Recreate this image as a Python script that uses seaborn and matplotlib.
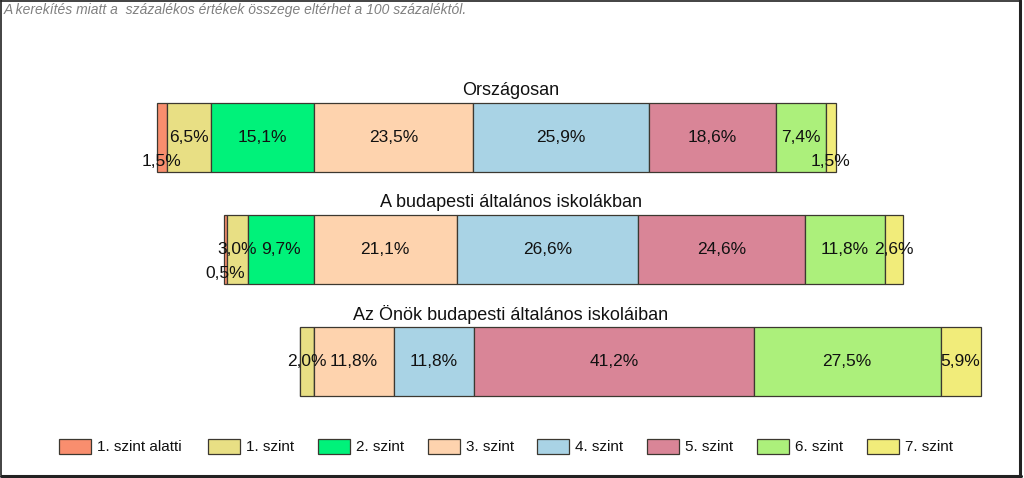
import matplotlib
matplotlib.use("Agg")
import matplotlib.pyplot as plt
from matplotlib.patches import Rectangle
from matplotlib.lines import Line2D
import matplotlib.transforms as mtransforms
import numpy as np
import pandas as pd
import seaborn as sns

# ---------------- data ----------------
categories = ["Országosan",
              "A budapesti általános iskolákban",
              "Az Önök budapesti általános iskoláiban"]
levels = ["1. szint alatti", "1. szint", "2. szint", "3. szint",
          "4. szint", "5. szint", "6. szint", "7. szint"]
szint_alatti = [1.5, 0.5, 0.0]
szint_1 = [6.5, 3.0, 2.0]
szint_2 = [15.1, 9.7, 0.0]
szint_3 = [23.5, 21.1, 11.8]
szint_4 = [25.9, 26.6, 11.8]
szint_5 = [18.6, 24.6, 41.2]
szint_6 = [7.4, 11.8, 27.5]
szint_7 = [1.5, 2.6, 5.9]
bar_start = [0.0, 9.9, 21.1]
note = "A kerekítés miatt a  százalékos értékek összege eltérhet a 100 százaléktól."

series = [szint_alatti, szint_1, szint_2, szint_3, szint_4, szint_5, szint_6, szint_7]
colors = ["#F98E6E", "#E8DF84", "#00F27A", "#FED3AE",
          "#A9D3E5", "#D98597", "#ACF07B", "#F1EC7A"]
edge = "#3C3830"

# ---------------- style ----------------
sns.set_theme(style="white")
plt.rcParams["font.family"] = ["Liberation Sans", "DejaVu Sans"]

W, H = 1024, 478
fig = plt.figure(figsize=(W / 100, H / 100), dpi=100)
ax = fig.add_axes([0, 0, 1, 1])

bar_h = 0.616
lefts = np.array(bar_start, dtype=float)
for lvl, vals, col in zip(levels, series, colors):
    df = pd.DataFrame({"kategoria": categories, "ertek": vals})
    sns.barplot(data=df, x="ertek", y="kategoria", order=categories,
                color=col, width=bar_h, errorbar=None, left=lefts.copy(),
                edgecolor=edge, linewidth=0.9, saturation=1, ax=ax)
    for i, v in enumerate(vals):
        if v <= 0:
            continue
        cx = lefts[i] + v / 2
        txt = f"{v:.1f}".replace(".", ",") + "%"
        dy = 0.215 if v < 2 else 0.0
        ax.text(cx, i + dy, txt, ha="center", va="center",
                fontsize=12.5, color="#111111", zorder=5)
    lefts = lefts + np.array(vals)

# scale: row-1 start at 156.7 px, 6.793 px per percent
px = 6.793
ax.set_xlim(-156.7 / px, (W - 156.7) / px)
ax.set_ylim((H - 137.5) / 112, -137.5 / 112)
ax.set_axis_off()

# row titles
trans = mtransforms.blended_transform_factory(ax.transAxes, ax.transData)
for i, c in enumerate(categories):
    ax.text(511 / W, i - 0.424, c, transform=trans, ha="center", va="center",
            fontsize=13, color="#111111")

# note
fig.text(4 / W, 1 - 10 / H, note, ha="left", va="center", fontsize=10,
         style="italic", color="#808080")

# legend (manual)
legend_x = [59, 208, 318, 428, 537, 647, 757, 867]
for x0, lvl, col in zip(legend_x, levels, colors):
    fig.patches.append(Rectangle((x0 / W, 1 - 454 / H), 32 / W, 15 / H,
                                 transform=fig.transFigure, facecolor=col,
                                 edgecolor=edge, linewidth=0.9))
    fig.text((x0 + 38) / W, 1 - 447 / H, lvl, ha="left", va="center",
             fontsize=11, color="#111111")

# frame
fig.add_artist(Line2D([1 / W, 1 / W], [1 - 475 / H, 1], transform=fig.transFigure,
                      color="#222222", lw=1.2))
fig.add_artist(Line2D([1 / W, 1020 / W], [1 - 0.5 / H, 1 - 0.5 / H],
                      transform=fig.transFigure, color="#222222", lw=1.2))
fig.add_artist(Line2D([1020 / W, 1020 / W], [1 - 475.5 / H, 1], transform=fig.transFigure,
                      color="#222222", lw=2.2))
fig.add_artist(Line2D([1 / W, 1021 / W], [1 - 475.5 / H, 1 - 475.5 / H],
                      transform=fig.transFigure, color="#222222", lw=2.2))

fig.savefig("out.png", dpi=100)
